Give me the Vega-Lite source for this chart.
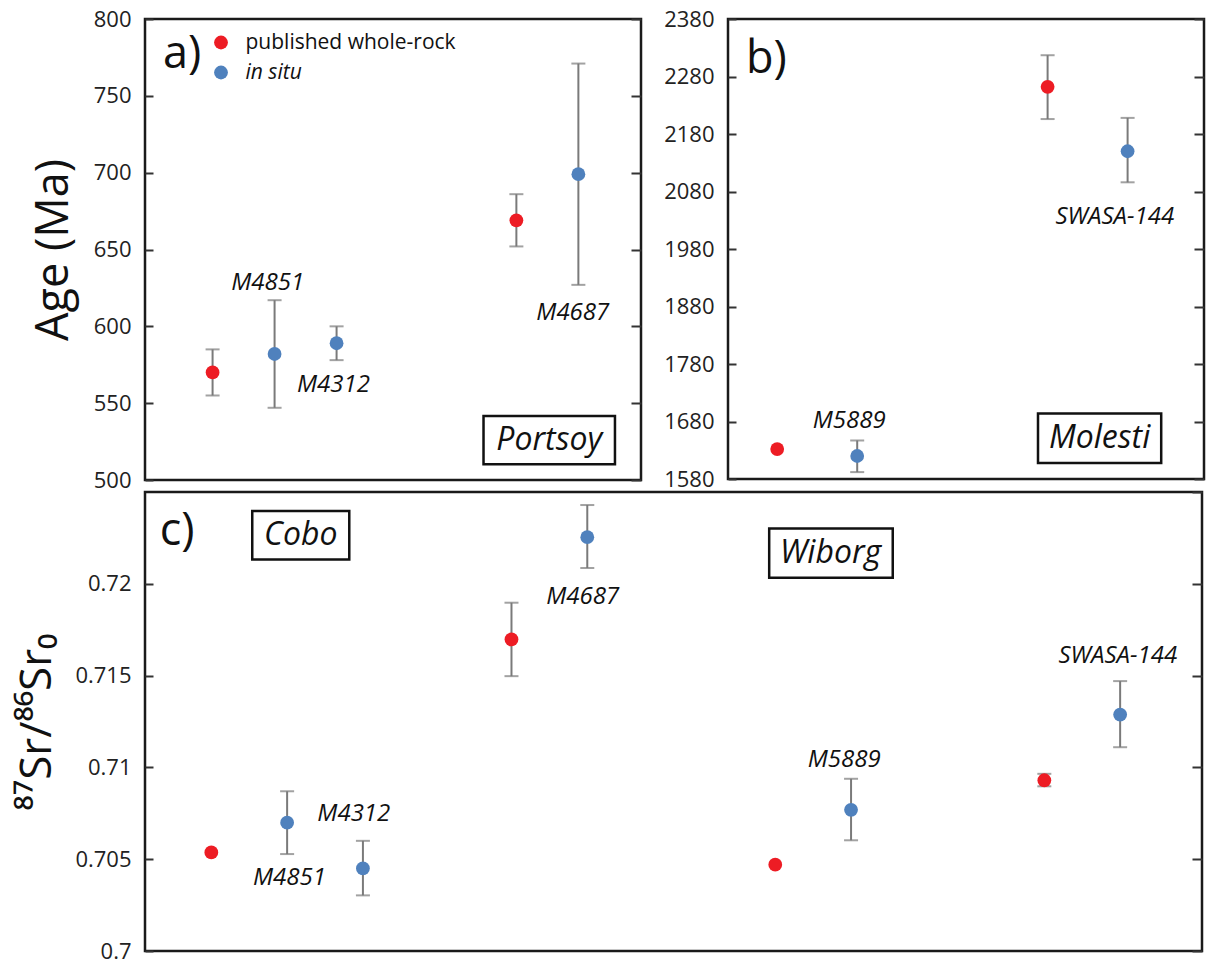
{
  "$schema": "https://vega.github.io/schema/vega-lite/v6.json",
  "padding": {"left": 14, "top": 6, "right": 0, "bottom": 0},
  "background": "white",
  "datasets": {
    "a_pts": [
      {"x": 1, "y": 570, "lo": 555, "hi": 585, "type": "published whole-rock"},
      {"x": 2, "y": 582, "lo": 547, "hi": 617, "type": "in situ"},
      {"x": 3, "y": 589, "lo": 578, "hi": 600, "type": "in situ"},
      {"x": 5.9, "y": 669, "lo": 652, "hi": 686, "type": "published whole-rock"},
      {"x": 6.9, "y": 699, "lo": 627, "hi": 771, "type": "in situ"}
    ],
    "a_lab": [
      {"x": 1.89, "y": 628.2, "label": "M4851"},
      {"x": 2.95, "y": 561.8, "label": "M4312"},
      {"x": 6.81, "y": 608.7, "label": "M4687"}
    ],
    "a_box": [{"x": 5.37, "x2": 7.49, "y": 541.6, "y2": 510.2, "tx": 6.43, "ty": 526, "label": "Portsoy"}],
    "a_tag": [{"x": 0.2, "y": 768, "label": "a)"}],
    "b_pts": [
      {"x": 1, "y": 1632, "type": "published whole-rock"},
      {"x": 2, "y": 1620, "lo": 1592, "hi": 1647, "type": "in situ"},
      {"x": 4.38, "y": 2262, "lo": 2206, "hi": 2317, "type": "published whole-rock"},
      {"x": 5.38, "y": 2150, "lo": 2096, "hi": 2208, "type": "in situ"}
    ],
    "b_lab": [
      {"x": 5.22, "y": 2036, "label": "SWASA-144"},
      {"x": 1.9, "y": 1681, "label": "M5889"}
    ],
    "b_box": [{"x": 4.26, "x2": 5.8, "y": 1694, "y2": 1608, "tx": 5.03, "ty": 1651, "label": "Molesti"}],
    "b_tag": [{"x": 0.61, "y": 2286, "label": "b)"}],
    "c_pts": [
      {"x": 1, "y": 0.70537, "type": "published whole-rock"},
      {"x": 2, "y": 0.70699, "lo": 0.70528, "hi": 0.7087, "type": "in situ"},
      {"x": 3, "y": 0.7045, "lo": 0.70303, "hi": 0.706, "type": "in situ"},
      {"x": 4.96, "y": 0.71697, "lo": 0.71497, "hi": 0.71897, "type": "published whole-rock"},
      {"x": 5.96, "y": 0.72254, "lo": 0.72086, "hi": 0.72429, "type": "in situ"},
      {"x": 8.44, "y": 0.7047, "type": "published whole-rock"},
      {"x": 9.44, "y": 0.70769, "lo": 0.70603, "hi": 0.70938, "type": "in situ"},
      {"x": 11.99, "y": 0.7093, "lo": 0.70897, "hi": 0.70965, "type": "published whole-rock"},
      {"x": 12.99, "y": 0.71288, "lo": 0.7111, "hi": 0.7147, "type": "in situ"}
    ],
    "c_lab": [
      {"x": 5.9, "y": 0.71926, "label": "M4687"},
      {"x": 2.88, "y": 0.70745, "label": "M4312"},
      {"x": 2.03, "y": 0.70398, "label": "M4851"},
      {"x": 12.96, "y": 0.71606, "label": "SWASA-144"},
      {"x": 9.35, "y": 0.71039, "label": "M5889"}
    ],
    "c_box": [
      {"x": 1.54, "x2": 2.82, "y": 0.72397, "y2": 0.72132, "tx": 2.18, "ty": 0.72264, "label": "Cobo"},
      {"x": 8.36, "x2": 9.99, "y": 0.72301, "y2": 0.72033, "tx": 9.17, "ty": 0.72167, "label": "Wiborg"}
    ],
    "c_tag": [{"x": 0.32, "y": 0.72213, "label": "c)"}]
  },
  "resolve": {"scale": {"color": "independent"}, "legend": {"color": "independent"}},
  "bounds": "flush",
  "spacing": 473,
  "vconcat": [
    {
      "bounds": "flush",
      "spacing": 87,
      "hconcat": [
        {
          "width": 496,
          "height": 461,
          "resolve": {"axis": {"y": "independent"}},
          "layer": [
            {
              "data": {"name": "a_pts"},
              "transform": [{"filter": "isValid(datum.lo)"}],
              "mark": {"type": "errorbar", "ticks": {"size": 14, "thickness": 2, "color": "#7a7a7a"}, "rule": {"strokeWidth": 2, "color": "#7a7a7a"}},
              "encoding": {
                "x": {"field": "x", "type": "quantitative", "scale": {"domain": [-0.09, 7.91], "nice": false}, "axis": null},
                "y": {"field": "lo", "type": "quantitative", "scale": {"domain": [500, 800], "nice": false},
                  "axis": {"orient": "left", "values": [500, 550, 600, 650, 700, 750, 800], "format": "d", "title": "Age (Ma)", "titleFontSize": 45, "titlePadding": 17}},
                "y2": {"field": "hi"}
              }
            },
            {
              "data": {"name": "a_pts"},
              "mark": {"type": "circle", "size": 190, "opacity": 1},
              "encoding": {
                "x": {"field": "x", "type": "quantitative", "scale": {"domain": [-0.09, 7.91], "nice": false}, "axis": null},
                "y": {"field": "y", "type": "quantitative", "scale": {"domain": [500, 800], "nice": false},
                  "axis": {"orient": "right", "values": [500, 550, 600, 650, 700, 750, 800], "labels": false, "title": null, "tickSize": -10}},
                "color": {"field": "type", "type": "nominal",
                  "scale": {"domain": ["published whole-rock", "in situ"], "range": ["#ed1c24", "#4f81bd"]},
                  "legend": {"orient": "none", "legendX": 65.5, "legendY": 13, "title": null, "padding": 0,
                    "labelFont": "Open Sans", "labelFontSize": 21, "labelColor": "#111", "labelOffset": 14, "rowPadding": 8, "labelLimit": 400,
                    "symbolType": "circle", "symbolSize": 190, "symbolStrokeWidth": 0, "symbolOpacity": 1,
                    "encode": {"labels": {"update": {"fontStyle": {"signal": "datum.label === 'in situ' ? 'italic' : 'normal'"}}}}}
                }
              }
            },
            {
              "data": {"name": "a_lab"},
              "mark": {"type": "text", "font": "Open Sans", "fontStyle": "italic", "fontSize": 24, "align": "center", "baseline": "middle", "color": "#111"},
              "encoding": {
                "x": {"field": "x", "type": "quantitative", "axis": null},
                "y": {"field": "y", "type": "quantitative", "axis": null},
                "text": {"field": "label"}
              }
            },
            {
              "data": {"name": "a_box"},
              "mark": {"type": "rect", "fill": "white", "fillOpacity": 0, "stroke": "#111", "strokeWidth": 2.5},
              "encoding": {
                "x": {"field": "x", "type": "quantitative", "axis": null},
                "x2": {"field": "x2"},
                "y": {"field": "y", "type": "quantitative", "axis": null},
                "y2": {"field": "y2"}
              }
            },
            {
              "data": {"name": "a_box"},
              "mark": {"type": "text", "font": "Open Sans", "fontStyle": "italic", "fontSize": 32, "align": "center", "baseline": "middle", "color": "#111"},
              "encoding": {
                "x": {"field": "tx", "type": "quantitative", "axis": null},
                "y": {"field": "ty", "type": "quantitative", "axis": null},
                "text": {"field": "label"}
              }
            },
            {
              "data": {"name": "a_tag"},
              "mark": {"type": "text", "font": "Open Sans", "fontSize": 45, "align": "left", "baseline": "alphabetic", "color": "#111"},
              "encoding": {
                "x": {"field": "x", "type": "quantitative", "axis": null},
                "y": {"field": "y", "type": "quantitative", "axis": null},
                "text": {"field": "label"}
              }
            }
          ]
        },
        {
          "width": 476,
          "height": 460,
          "resolve": {"axis": {"y": "independent"}},
          "layer": [
            {
              "data": {"name": "b_pts"},
              "transform": [{"filter": "isValid(datum.lo)"}],
              "mark": {"type": "errorbar", "ticks": {"size": 14, "thickness": 2, "color": "#7a7a7a"}, "rule": {"strokeWidth": 2, "color": "#7a7a7a"}},
              "encoding": {
                "x": {"field": "x", "type": "quantitative", "scale": {"domain": [0.385, 6.335], "nice": false}, "axis": null},
                "y": {"field": "lo", "type": "quantitative", "scale": {"domain": [1580, 2380], "nice": false},
                  "axis": {"orient": "left", "values": [1580, 1680, 1780, 1880, 1980, 2080, 2180, 2280, 2380], "format": "d", "title": null}},
                "y2": {"field": "hi"}
              }
            },
            {
              "data": {"name": "b_pts"},
              "mark": {"type": "circle", "size": 190, "opacity": 1},
              "encoding": {
                "x": {"field": "x", "type": "quantitative", "scale": {"domain": [0.385, 6.335], "nice": false}, "axis": null},
                "y": {"field": "y", "type": "quantitative", "scale": {"domain": [1580, 2380], "nice": false},
                  "axis": {"orient": "right", "values": [1580, 1680, 1780, 1880, 1980, 2080, 2180, 2280, 2380], "labels": false, "title": null, "tickSize": -10}},
                "color": {"field": "type", "type": "nominal",
                  "scale": {"domain": ["published whole-rock", "in situ"], "range": ["#ed1c24", "#4f81bd"]}, "legend": null}
              }
            },
            {
              "data": {"name": "b_lab"},
              "mark": {"type": "text", "font": "Open Sans", "fontStyle": "italic", "fontSize": 24, "align": "center", "baseline": "middle", "color": "#111"},
              "encoding": {
                "x": {"field": "x", "type": "quantitative", "axis": null},
                "y": {"field": "y", "type": "quantitative", "axis": null},
                "text": {"field": "label"}
              }
            },
            {
              "data": {"name": "b_box"},
              "mark": {"type": "rect", "fill": "white", "fillOpacity": 0, "stroke": "#111", "strokeWidth": 2.5},
              "encoding": {
                "x": {"field": "x", "type": "quantitative", "axis": null},
                "x2": {"field": "x2"},
                "y": {"field": "y", "type": "quantitative", "axis": null},
                "y2": {"field": "y2"}
              }
            },
            {
              "data": {"name": "b_box"},
              "mark": {"type": "text", "font": "Open Sans", "fontStyle": "italic", "fontSize": 32, "align": "center", "baseline": "middle", "color": "#111"},
              "encoding": {
                "x": {"field": "tx", "type": "quantitative", "axis": null},
                "y": {"field": "ty", "type": "quantitative", "axis": null},
                "text": {"field": "label"}
              }
            },
            {
              "data": {"name": "b_tag"},
              "mark": {"type": "text", "font": "Open Sans", "fontSize": 45, "align": "left", "baseline": "alphabetic", "color": "#111"},
              "encoding": {
                "x": {"field": "x", "type": "quantitative", "axis": null},
                "y": {"field": "y", "type": "quantitative", "axis": null},
                "text": {"field": "label"}
              }
            }
          ]
        }
      ]
    },
    {
      "width": 1057,
      "height": 459,
      "resolve": {"axis": {"y": "independent"}},
      "layer": [
        {
          "data": {"name": "c_pts"},
          "transform": [{"filter": "isValid(datum.lo)"}],
          "mark": {"type": "errorbar", "ticks": {"size": 14, "thickness": 2, "color": "#7a7a7a"}, "rule": {"strokeWidth": 2, "color": "#7a7a7a"}},
          "encoding": {
            "x": {"field": "x", "type": "quantitative", "scale": {"domain": [0.125, 14.07], "nice": false}, "axis": null},
            "y": {"field": "lo", "type": "quantitative", "scale": {"domain": [0.7, 0.725], "nice": false, "zero": false},
              "axis": {"orient": "left", "values": [0.7, 0.705, 0.71, 0.715, 0.72], "format": "~f", "title": "⁸⁷Sr/⁸⁶Sr₀", "titleFontSize": 44, "titlePadding": 15}},
            "y2": {"field": "hi"}
          }
        },
        {
          "data": {"name": "c_pts"},
          "mark": {"type": "circle", "size": 190, "opacity": 1},
          "encoding": {
            "x": {"field": "x", "type": "quantitative", "scale": {"domain": [0.125, 14.07], "nice": false}, "axis": null},
            "y": {"field": "y", "type": "quantitative", "scale": {"domain": [0.7, 0.725], "nice": false, "zero": false},
              "axis": {"orient": "right", "values": [0.7, 0.705, 0.71, 0.715, 0.72, 0.725], "labels": false, "title": null, "tickSize": -10}},
            "color": {"field": "type", "type": "nominal",
              "scale": {"domain": ["published whole-rock", "in situ"], "range": ["#ed1c24", "#4f81bd"]}, "legend": null}
          }
        },
        {
          "data": {"name": "c_lab"},
          "mark": {"type": "text", "font": "Open Sans", "fontStyle": "italic", "fontSize": 24, "align": "center", "baseline": "middle", "color": "#111"},
          "encoding": {
            "x": {"field": "x", "type": "quantitative", "axis": null},
            "y": {"field": "y", "type": "quantitative", "axis": null},
            "text": {"field": "label"}
          }
        },
        {
          "data": {"name": "c_box"},
          "mark": {"type": "rect", "fill": "white", "fillOpacity": 0, "stroke": "#111", "strokeWidth": 2.5},
          "encoding": {
            "x": {"field": "x", "type": "quantitative", "axis": null},
            "x2": {"field": "x2"},
            "y": {"field": "y", "type": "quantitative", "axis": null},
            "y2": {"field": "y2"}
          }
        },
        {
          "data": {"name": "c_box"},
          "mark": {"type": "text", "font": "Open Sans", "fontStyle": "italic", "fontSize": 32, "align": "center", "baseline": "middle", "color": "#111"},
          "encoding": {
            "x": {"field": "tx", "type": "quantitative", "axis": null},
            "y": {"field": "ty", "type": "quantitative", "axis": null},
            "text": {"field": "label"}
          }
        },
        {
          "data": {"name": "c_tag"},
          "mark": {"type": "text", "font": "Open Sans", "fontSize": 45, "align": "left", "baseline": "alphabetic", "color": "#111"},
          "encoding": {
            "x": {"field": "x", "type": "quantitative", "axis": null},
            "y": {"field": "y", "type": "quantitative", "axis": null},
            "text": {"field": "label"}
          }
        }
      ]
    }
  ],
  "config": {
    "view": {"stroke": "#1a1a1a", "strokeWidth": 2.5},
    "axis": {
      "domain": false, "grid": false,
      "labelFont": "Open Sans", "labelFontSize": 22, "labelColor": "#222",
      "tickColor": "#333", "tickWidth": 2, "tickSize": -8, "labelPadding": 22,
      "titleFont": "Open Sans", "titleFontWeight": "normal", "titleColor": "#111"
    }
  }
}
